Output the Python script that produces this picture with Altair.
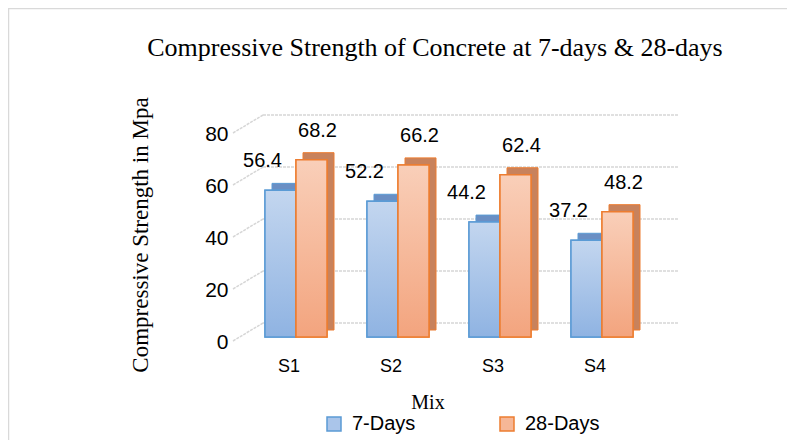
import altair as alt
import pandas as pd

mixes = ["S1", "S2", "S3", "S4"]
days7 = [56.4, 52.2, 44.2, 37.2]
days28 = [68.2, 66.2, 62.4, 48.2]
series_names = ["7-Days", "28-Days"]
y_ticks = [0, 20, 40, 60, 80]
chart_title = "Compressive Strength of Concrete at 7-days & 28-days"
y_title = "Compressive Strength in Mpa"
x_title = "Mix"

rows = []
for m, a, b in zip(mixes, days7, days28):
    rows.append({"mix": m, "series": series_names[0], "value": a})
    rows.append({"mix": m, "series": series_names[1], "value": b})
df = pd.DataFrame(rows)
ticks_df = pd.DataFrame({"tick": y_ticks})
one = pd.DataFrame({"a": [0]})

W, H = 408, 208
PL, PT = 237, 121
PR = 779 - PL - W
PB = 432 - PT - H
DEPTH = 7
BW = 31

xscale = alt.Scale(domain=mixes, paddingInner=0.4, paddingOuter=0.2)
yscale = alt.Scale(domain=[0, 80], nice=False)

SANS = "Liberation Sans"
SERIF = "Liberation Serif"

border = alt.Chart(one).mark_rect(fill="transparent", stroke="#d9d9d9", strokeWidth=1.5).encode(
    x=alt.value(-PL + 0.5), x2=alt.value(W + PR + 20),
    y=alt.value(-PT + 0.5), y2=alt.value(H + PB + 20),
)

title_txt = alt.Chart(one).mark_text(font=SERIF, fontSize=26, color="black",
                                     align="center", baseline="middle").encode(
    x=alt.value(W / 2 - 14), y=alt.value(-81), text=alt.value(chart_title))
ytitle_txt = alt.Chart(one).mark_text(font=SERIF, fontSize=23, color="black", angle=270,
                                      align="center", baseline="middle").encode(
    x=alt.value(-104), y=alt.value(106), text=alt.value(y_title))
xtitle_txt = alt.Chart(one).mark_text(font=SERIF, fontSize=20, color="black",
                                      align="center", baseline="middle").encode(
    x=alt.value(183), y=alt.value(H + 66), text=alt.value(x_title))

diag = alt.Chart(ticks_df).mark_rule(color="#d6d6d6", strokeWidth=1.5, strokeDash=[3, 1],
                                     yOffset=4, y2Offset=-14).encode(
    x=alt.value(-12), x2=alt.value(18),
    y=alt.Y("tick:Q", scale=yscale, title=None),
    y2=alt.Y2("tick:Q"),
)

grid = alt.Chart(ticks_df).mark_rule(color="#d6d6d6", strokeWidth=1.5, strokeDash=[3, 1],
                                     yOffset=-14).encode(
    x=alt.value(18), x2=alt.value(433),
    y=alt.Y("tick:Q", scale=yscale, title=None),
)

axes_layer = alt.Chart(df).mark_bar(opacity=0).encode(
    x=alt.X("mix:N", scale=xscale, title=None,
            axis=alt.Axis(labelAngle=0, labelPadding=20, labelOffset=-7)),
    y=alt.Y("value:Q", scale=yscale, title=None,
            axis=alt.Axis(values=y_ticks, labelPadding=17, labelOffset=5)),
)

styles = {
    "7-Days": dict(off=-BW / 2, side="#6a8fc4", border="#5b9bd5",
                   top="#c3d6ef", bottom="#8fb3e2", labdx=-BW / 2 - 18),
    "28-Days": dict(off=BW / 2, side="#c8825c", border="#ed7d31",
                    top="#f9cfb9", bottom="#f3a47e", labdx=BW / 2 + 6),
}

color_scale = alt.Scale(domain=series_names, range=["#aac5ea", "#f6b797"])
stroke_scale = alt.Scale(domain=series_names, range=["#5b9bd5", "#ed7d31"])
leg = dict(title=None, orient="none", legendX=79, legendY=285,
           direction="horizontal", symbolType="square",
           symbolSize=196, symbolStrokeWidth=1.5,
           labelFont=SANS, labelFontSize=20, labelColor="black",
           labelOffset=8, columnPadding=81)

bars = []
texts = []
for s in series_names:
    st = styles[s]
    base = alt.Chart(df).transform_filter(alt.datum.series == s)
    xe = alt.X("mix:N", scale=xscale, title=None)
    ye = alt.Y("value:Q", scale=yscale, title=None)
    shadow = base.mark_bar(width=BW, xOffset=st["off"] + DEPTH, yOffset=-DEPTH,
                           fill=st["side"], stroke=st["border"], strokeWidth=1).encode(x=xe, y=ye)
    front = base.mark_bar(width=BW, xOffset=st["off"], strokeWidth=1.5).encode(
        x=xe, y=ye,
        fill=alt.Fill("series:N", scale=color_scale, sort=series_names, legend=alt.Legend(**leg)),
        stroke=alt.Stroke("series:N", scale=stroke_scale, sort=series_names, legend=alt.Legend(**leg)),
    )
    grad = alt.Gradient(gradient="linear",
                        stops=[alt.GradientStop(color=st["top"], offset=0),
                               alt.GradientStop(color=st["bottom"], offset=1)],
                        x1=0, x2=0, y1=0, y2=1)
    overlay = base.mark_bar(width=BW, xOffset=st["off"], fill=grad, stroke=st["border"],
                            strokeWidth=1.5).encode(x=xe, y=ye)
    text = base.mark_text(font=SANS, fontSize=20, color="black", baseline="middle",
                          dx=st["labdx"], dy=-29).encode(
        x=xe, y=ye, text=alt.Text("value:Q", format=".1f"))
    bars += [shadow, front, overlay]
    texts.append(text)

chart = alt.layer(axes_layer, border, diag, grid, *bars, *texts,
                  title_txt, ytitle_txt, xtitle_txt).properties(
    width=W, height=H,
    padding={"left": PL, "top": PT, "right": PR, "bottom": PB},
    autosize=alt.AutoSizeParams(type="none"),
).configure_view(stroke="transparent", strokeWidth=0).configure_axis(
    grid=False, ticks=False, domain=False, labelFont=SANS, labelColor="black",
).configure_axisX(labelFontSize=18).configure_axisY(labelFontSize=21)

chart.save("out.html", embed_options={"renderer": "svg", "actions": False})
